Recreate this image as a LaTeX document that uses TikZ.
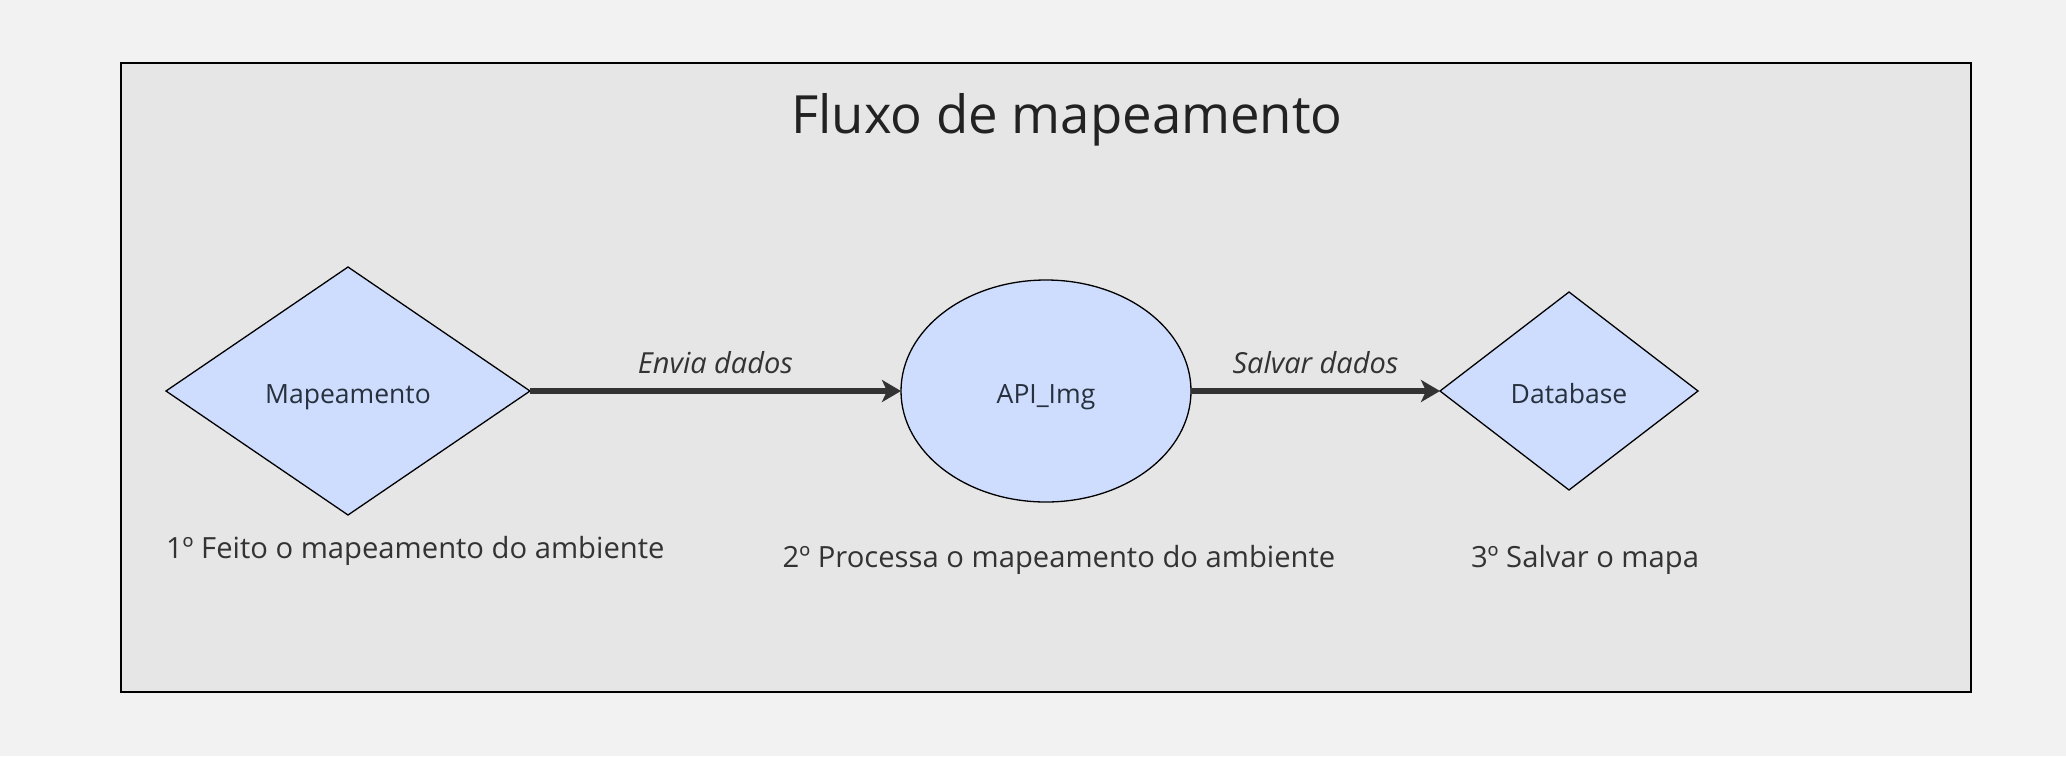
\documentclass[tikz,border=0pt]{standalone}
\usepackage{fontspec}
\setmainfont{Open Sans}
\usetikzlibrary{shapes.geometric,arrows.meta}
\definecolor{pagebg}{HTML}{F2F2F2}
\definecolor{framebg}{HTML}{E6E6E6}
\definecolor{nodefill}{HTML}{CEDCFD}
\definecolor{inkdark}{HTML}{333333}
\definecolor{nodeink}{HTML}{27303D}
\definecolor{titleink}{HTML}{222222}
\tikzset{
  every node/.style={inner sep=0pt, outer sep=0pt},
  decision/.style={diamond, draw=black, line width=1.3pt, fill=nodefill, text=nodeink,
    font=\fontsize{26.5}{30}\selectfont, text height=24pt, text depth=0pt},
  process/.style={ellipse, draw=black, line width=1.3pt, fill=nodefill, text=nodeink,
    font=\fontsize{26.5}{30}\selectfont, text height=24pt, text depth=0pt},
  flow/.style={line width=6pt, draw=inkdark, -{Stealth[length=19pt,width=22pt,inset=5pt]}},
  flowlabel/.style={text=inkdark, font=\fontsize{29}{33}\selectfont\itshape},
  note/.style={text=inkdark, font=\fontsize{29.2}{33}\selectfont},
}
\begin{document}
\begin{tikzpicture}[x=1pt,y=-1pt]
\useasboundingbox (0,0) rectangle (2066,756);
\fill[pagebg] (0,0) rectangle (2066,756);
\draw[fill=framebg, draw=black, line width=2pt] (121,63) rectangle (1971,692);
\node[text=titleink, font=\fontsize{52.7}{58}\selectfont] (title) at (1067,120) {Fluxo de mapeamento};

\node[decision, minimum width=364pt, minimum height=248pt] (map) at (348,391) {Mapeamento};
\node[process, minimum width=290pt, minimum height=222pt] (api) at (1046,391) {API\_Img};
\node[decision, minimum width=258pt, minimum height=198pt] (db) at (1569,391) {Database};

\draw[flow] (map.east) -- node[flowlabel, above=17pt] (l1) {Envia dados} (api.west);
\draw[flow] (api.east) -- node[flowlabel, above=17pt] (l2) {Salvar dados} (db.west);

\node[note, anchor=west] (n1) at (166,551) {1º Feito o mapeamento do ambiente};
\node[note] (n2) at (1059,560) {2º Processa o mapeamento do ambiente};
\node[note, anchor=west] (n3) at (1471,560) {3º Salvar o mapa};
\end{tikzpicture}
\end{document}
